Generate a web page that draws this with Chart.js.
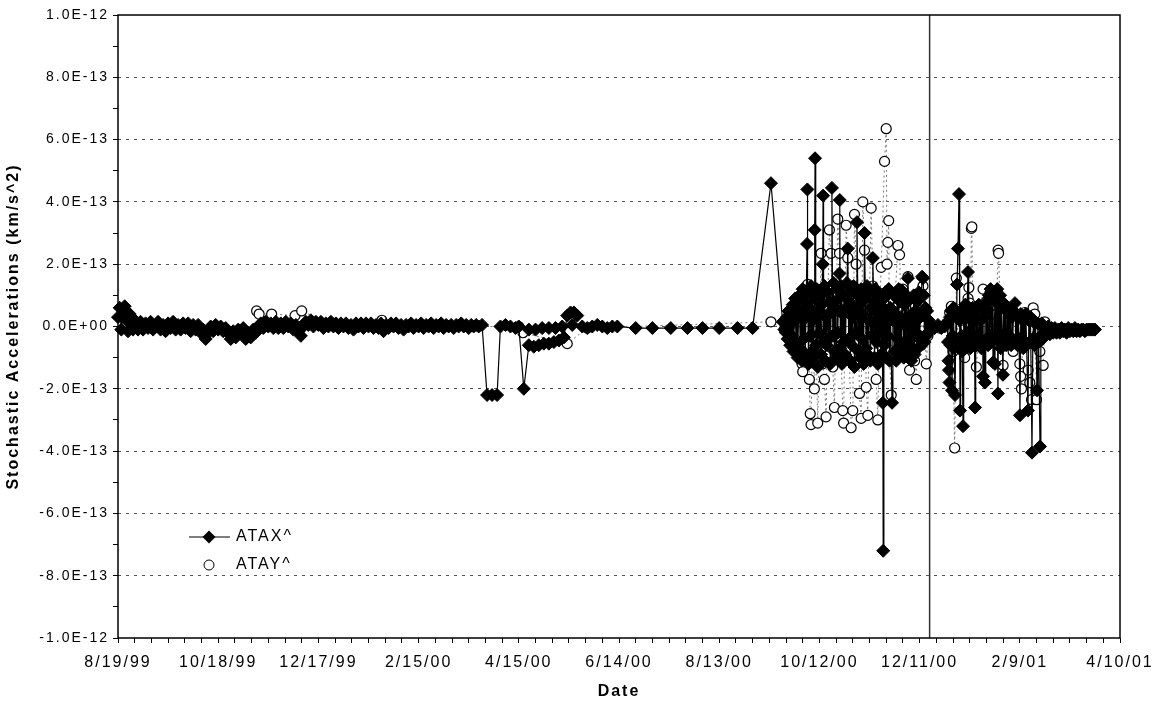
<!DOCTYPE html>
<html>
<head>
<meta charset="utf-8">
<title>Stochastic Accelerations</title>
<script src="https://cdn.jsdelivr.net/npm/chart.js@4.4.1/dist/chart.umd.min.js"></script>
<style>
  html, body { margin: 0; padding: 0; background: #fff; }
  #chart { display: block; }
</style>
</head>
<body>
<canvas id="chart" width="1160" height="705"></canvas>
<script>
// x values are days counted from the first axis date (8/19/99)
const startDate = Date.UTC(1999, 7, 19);
const dayMin = 0;
const dayMax = 600;
const labelEvery = 60;   // one date label every 60 days
const minorEvery = 10;   // small tick every 10 days
const markerDay = 486;   // solid vertical line just after 12/11/00

// y values are in units of 1E-13 km/s^2
const yMin = -10;
const yMax = 10;

const seriesNames = ['ATAX^', 'ATAY^'];

// ATAX^ : [day, value]
const atax = [
  [0,0.3],[1,0.6],[2,-0.1],[3,0.5],[4,0.65],[5,0.2],[6,-0.15],[7,0.4],[8,0.1],[9,-0.1],
  [10,0.2],[11,0],[12,-0.1],[13.5,0.15],[15,-0.1],[16.5,0.1],[18,-0.05],[19.5,0.15],[21,-0.1],[22.5,0.05],
  [24,0.15],[25.5,-0.1],[27,0.05],[28.5,-0.15],[30,0.1],[31.5,-0.05],[33,0.15],[34.5,-0.1],[36,0.05],[37.5,-0.1],
  [39,0.1],[40.5,-0.05],[42,0.1],[43.5,-0.15],[45,0.05],[46.5,-0.1],[48,0.05],[49.5,-0.2],[51,-0.1],[52.5,-0.4],
  [54,-0.2],[55.5,0],[57,-0.15],[58.5,0.05],[60,-0.1],[61.5,0],[63,-0.15],[64.5,-0.05],[66,-0.2],[67.5,-0.4],
  [69,-0.15],[70.5,-0.35],[72,-0.1],[73.5,-0.2],[75,-0.05],[76.5,-0.4],[78,-0.2],[79.5,-0.35],[81,-0.1],[82.5,-0.2],
  [84,0],[85.5,0.1],[87,-0.05],[88.5,0.15],[90,0],[91.5,0.1],[93,-0.05],[94.5,0.15],[96,-0.05],[97.5,0.1],
  [99,-0.05],[100.5,0.15],[102,0],[103.5,0.1],[105,-0.1],[106.5,0.05],[108,-0.15],[109.5,-0.3],[111,0],[112.5,0.15],
  [114,0.05],[115.5,0.2],[117,0],[118.5,0.15],[120,0.05],[121.5,0.15],[123,-0.05],[124.5,0.1],[126,0],[127.5,0.15],
  [129,0],[130.5,0.1],[132,-0.05],[133.5,0.1],[135,0],[136.5,0.1],[138,-0.05],[139.5,0.05],[141,-0.1],[142.5,0.1],
  [144,0],[145.5,0.1],[147,-0.05],[148.5,0.1],[150,0],[151.5,0.1],[153,-0.05],[154.5,0.05],[156,-0.05],[157.5,0.1],
  [159,-0.15],[160.5,0.05],[162,-0.05],[163.5,0.1],[165,0],[166.5,0.1],[168,-0.05],[169.5,0.05],[171,-0.1],[172.5,0.05],
  [174,0],[175.5,0.1],[177,-0.05],[178.5,0.05],[180,0],[181.5,0.1],[183,-0.05],[184.5,0.05],[186,0],[187.5,0.1],
  [189,-0.05],[190.5,0.05],[192,0],[193.5,0.1],[195,-0.05],[196.5,0.05],[198,0],[199.5,0.05],[201,-0.05],[202.5,0.05],
  [204,0],[205.5,0.1],[207,0],[208.5,0.05],[210,-0.05],[211.5,0.05],[213,0],[214.5,0.05],[216,0],[218,0.05],
  [221,-2.2],[224,-2.2],[227,-2.2],[229,0],[232,0.05],[235,0],[238,-0.05],[240,0],
  [243,-2.0],[246,-0.6],[249,-0.65],[252,-0.6],[255,-0.55],[258,-0.55],[261,-0.5],[264,-0.45],[267,-0.35],
  [269,0.35],[271,0.45],[273,0.45],[275,0.35],[272,0.05],[266,0],[262,-0.05],[258,-0.05],[254,-0.05],
  [250,-0.1],[246,-0.1],[278,0],[281,-0.05],[284,0],[287,0.05],[290,0],[293,-0.05],[296,0],[299,0],
  [310,-0.05],[320,-0.05],[331,-0.05],[341,-0.05],[350,-0.05],[360,-0.05],[371,-0.05],[380,-0.05],
  [391,4.6],[398,0.15],[399,-0.1],
  // busy period, Oct - Dec 2000
  [400,-0.2],[400.5,0.3],[401,-0.4],[401.5,0.5],[402,0.1],[402.5,-0.6],[403,0.4],[403.5,-0.3],[404,0.7],[404.5,-0.8],
  [405,0.2],[405.5,0.9],[406,-0.5],[406.5,0.6],[407,-1.0],[407.5,0.3],[408,1.0],[408.5,-0.7],[409,0.5],[409.5,-1.1],
  [410,1.2],[410.5,-0.4],[411,0.8],[411.5,-0.9],[412,0.3],[412.6,2.65],[412.8,4.4],[413,1.1],[413.5,-1.2],[414,0.6],
  [414.5,-0.3],[415,1.3],[415.5,-0.8],[416,0.2],[416.5,-1.0],[417,0.9],[417.2,3.1],[417.4,5.4],[417.8,0.4],[418,-0.6],
  [418.5,1.2],[419,-1.3],[419.5,0.5],[420,-0.2],[420.5,1.0],[421,-0.9],[421.5,0.7],[422,2.0],[422.2,4.2],[422.5,-0.5],
  [423,1.3],[423.5,-1.1],[424,0.3],[424.5,-0.6],[425,1.1],[425.5,-0.4],[426,0.8],[426.5,-1.2],[427,0.5],[427.5,4.45],
  [428,-0.3],[428.5,1.4],[429,-0.8],[429.5,0.6],[430,-1.0],[430.5,1.2],[431,-0.2],[431.5,0.9],[432,1.7],[432.2,4.06],
  [432.5,-0.7],[433,1.3],[433.5,-1.2],[434,0.4],[434.5,-0.5],[435,1.0],[435.5,-0.9],[436,0.6],[436.5,1.4],[437,2.5],
  [437.5,-0.4],[438,0.8],[438.5,-1.1],[439,1.2],[439.5,-0.6],[440,0.3],[440.5,1.3],[441,-1.3],[441.5,0.5],[442,-0.2],
  [442.5,3.35],[443,1.0],[443.5,-0.8],[444,0.7],[444.5,-1.0],[445,1.2],[445.5,-0.4],[446,0.4],[446.5,-1.2],[447,3.0],
  [447.5,0.9],[448,-0.7],[448.5,1.3],[449,-0.9],[449.5,0.2],[450,1.1],[450.5,-1.1],[451,0.6],[451.5,-0.3],[452,2.2],
  [452.5,0.8],[453,-1.0],[453.5,1.2],[454,-0.5],[454.5,0.4],[455,-1.2],[455.5,1.0],[456,-0.2],[456.5,0.7],[457,-0.9],
  [457.5,0.3],[458,-2.45],[458.2,-7.2],[458.6,0.9],[459,-0.6],[459.5,1.1],[460,-1.0],[460.5,0.5],[461,-0.3],[461.5,1.2],
  [462,-1.1],[462.5,0.6],[463.5,-2.45],[464,0.2],[464.5,1.0],[465,-0.8],[465.5,0.4],[466,-1.1],[466.5,0.9],[467,-0.4],
  [467.5,1.2],[468,-0.9],[468.5,0.3],[469,-0.6],[469.5,1.15],[470,0.1],[470.5,-1.0],[471,0.7],[471.5,-0.5],[472,1.0],
  [472.5,-0.8],[473,1.55],[473.5,0.2],[474,-0.6],[474.5,0.9],[475,-1.1],[475.5,0.4],[476,-0.3],[476.5,1.0],[477,-0.9],
  [477.5,0.5],[478,-0.2],[478.5,0.8],[479,-0.7],[479.5,1.1],[480,-0.4],[480.5,0.3],[481.5,1.6],[482,1.55],[482.5,1.0],
  [483,-0.5],[483.5,0.6],[484,-0.3],[484.5,0.5],[485,-0.2],[485.5,0.2],[486,0],
  // after the marker line
  [487,0],[489,-0.05],[491,0.05],[493,-0.05],[495,0],[496.5,0.1],
  [497,-0.5],[497.3,-1.1],[497.6,-1.4],[497.9,-1.8],[498.2,0.3],[498.5,-0.6],[499,0.5],[499.4,-2.05],[499.8,-0.3],[500.3,0.6],
  [500.7,-0.7],[501.2,-2.2],[501.8,0.3],[502.1,-0.4],[502.4,1.35],[503,2.5],[503.6,4.25],[504,0.2],[504.2,-2.7],[504.6,0.5],
  [505,-0.3],[505.5,-0.8],[506,-3.2],[506.4,0.4],[506.8,-0.6],[507.3,0.7],[507.8,-0.5],[508.3,0.3],[509,1.75],[509.4,-0.2],
  [509.8,0.6],[510.3,-0.7],[510.8,0.4],[511.3,-0.5],[511.8,0.6],[512.3,-0.3],[512.8,0.2],[513.2,-2.6],[513.6,0.5],[514,-0.6],
  [514.5,0.3],[515,-0.4],[515.5,0.7],[516,-0.5],[516.5,0.2],[517,-0.7],[517.5,0.6],[518,-1.6],[518.5,0.3],[519.2,-1.8],
  [519.6,0.5],[520,-0.4],[520.5,0.8],[521,-0.6],[521.5,1.0],[522,-0.3],[522.5,1.2],[523,-0.5],[523.5,0.9],[524,-1.15],
  [524.5,1.1],[525.1,-1.2],[525.5,0.8],[526,-0.4],[526.5,1.2],[526.9,-2.15],[527.3,0.9],[527.8,-0.5],[528.2,1.0],[528.6,-0.7],
  [529,0.8],[529.5,-0.3],[529.9,-1.55],[530.3,0.6],[530.8,-0.4],[531.3,0.7],[531.8,-0.6],[532.3,0.5],[532.8,-0.3],[533.3,0.6],
  [533.8,-0.5],[534.3,0.4],[534.8,-0.6],[535.3,0.3],[535.8,-0.4],[536.3,0.5],[537.1,0.75],[537.6,-0.5],[538.1,0.4],[538.6,-0.6],
  [539.1,0.3],[539.6,-0.4],[540.1,-2.85],[540.6,0.4],[541.1,-0.6],[541.6,0.3],[542.1,-0.7],[542.6,0.2],[543.1,-0.5],[543.6,0.4],
  [544.1,-0.6],[544.9,-2.7],[545.4,0.2],[545.9,-0.5],[546.4,0.3],[547.3,-4.05],[547.8,-0.4],[548.3,0.2],[548.8,-0.6],[549.3,0.1],
  [549.8,-0.5],[550.3,-2.05],[550.8,0.1],[551.3,-0.5],[552.1,-3.85],[552.6,-0.3],[553.1,0.1],[553.6,-0.4],[554.1,0],[554.6,-0.3],
  [555,-0.1],[556,-0.2],[557,0],[558,-0.25],[559,-0.05],[560,-0.2],[561,-0.05],[562,-0.2],[563,-0.1],[564,-0.2],
  [565,-0.05],[566,-0.15],[567,-0.1],[568,-0.2],[569,-0.05],[570,-0.15],[571,-0.1],[572,-0.15],[573,-0.05],[574,-0.15],
  [575,-0.1],[576,-0.15],[577,-0.1],[578,-0.1],[579,-0.15],[580,-0.1],[581,-0.1],[582,-0.1],[583,-0.1],[584,-0.1],
  [585,-0.1]
];

// ATAY^ : [day, value]
const atay = [
  [83,0.5],[84.5,0.4],[92,0.4],[106,0.35],[110,0.5],[126,0.1],[158,0.2],[198,0],
  [240,0],[242.5,-0.2],[269,-0.55],[281,-0.05],[391,0.15],[399,-0.1],
  [404,0.1],[408,0.9],[409,-0.85],[409.6,-1.2],[410,-1.45],[411,1.2],[413,1.35],[414,-1.7],[414.5,-2.8],
  [415,-3.15],[416,0.6],[417,-2.0],[418,-0.5],[419,-3.1],[421,2.35],[422,-1.2],[423,-1.7],[424,-2.9],
  [425,0.8],[426,3.1],[427,2.35],[428,-1.3],[429,-2.6],[430,0.5],[431,3.45],[432,2.35],[433,-0.9],
  [434,-2.7],[434.5,-3.1],[436,3.25],[437,2.2],[438,-1.1],[439,-3.25],[440,-2.7],[441,3.6],[442,2.0],
  [443,0.7],[444,-2.15],[445,-2.95],[446,4.0],[447,2.45],[448,-1.95],[449,-2.85],[450,1.0],[451,3.8],
  [452,1.3],[454,-1.7],[455,-3.0],[456,0.3],[457,1.9],[459,5.3],[460,6.35],[460.5,2.0],[461,2.7],
  [461.5,3.4],[462,-1.0],[463,-2.2],[465,0.6],[467,2.6],[468,2.3],[469,0.45],[470,1.2],[472,-0.8],
  [473,1.6],[474,-1.4],[475,0.9],[477,-1.1],[478,-1.7],[479,0.3],[481,-0.6],[482,1.3],[483,0.4],
  [484,-1.2],[485,-0.3],
  [487,-0.1],[492,-0.05],[496,0.1],[498,0.45],[499,0.65],[500,-0.8],[501,-3.9],[502,1.55],[503,-0.5],
  [505,0.2],[507,-1.0],[509,0.9],[509.5,1.25],[510,0.75],[510.5,0.5],[511,3.15],[511.3,3.2],[512,-0.6],
  [514,-1.3],[516,0.3],[518,1.2],[520,0.8],[522,1.05],[523,0.6],[524,-0.4],[525,1.1],[526,0.4],
  [527,2.45],[527.3,2.35],[528,0.9],[530,-1.25],[531,0.6],[533,-0.3],[534,0.4],[536,-0.8],[538,0.35],
  [540,-1.2],[540.5,-1.6],[541,-2.0],[542,0.2],[543,0.45],[545,-1.4],[546,-1.8],[547,-2.35],[548,0.6],
  [549,0.4],[550,-2.35],[552,-0.8],[554,-1.25],[555,0.15],[557,-0.05],[560,-0.1],[565,-0.1],[570,-0.1],
  [575,-0.15],[580,-0.1],[584,-0.1]
];

// Format a day offset as m/d/yy
function dayLabel(day) {
  const d = new Date(startDate + day * 86400000);
  const yy = String(d.getUTCFullYear() % 100).padStart(2, '0');
  return (d.getUTCMonth() + 1) + '/' + d.getUTCDate() + '/' + yy;
}

// Excel style 0.0E+00 from a value in 1E-13 units
function sciLabel(v) {
  if (Math.abs(v) < 1e-9) return '0.0E+00';
  const parts = (v * 1e-13).toExponential(1).split('e');
  const exp = parseInt(parts[1], 10);
  return parts[0] + 'E' + (exp < 0 ? '-' : '+') + String(Math.abs(exp)).padStart(2, '0');
}

// Spaced-out text like the scanned original
const spacingPlugin = {
  id: 'spacing',
  beforeDraw(chart) {
    chart.ctx.letterSpacing = '2px';
  }
};

// Plot frame and the vertical marker line
const framePlugin = {
  id: 'frame',
  beforeDatasetsDraw(chart) {
    const ctx = chart.ctx;
    const area = chart.chartArea;
    const xm = chart.scales.x.getPixelForValue(markerDay);
    ctx.save();
    ctx.strokeStyle = '#333';
    ctx.lineWidth = 1.5;
    ctx.beginPath();
    ctx.moveTo(xm, area.top);
    ctx.lineTo(xm, area.bottom);
    ctx.stroke();
    ctx.restore();
  },
  afterDraw(chart) {
    const ctx = chart.ctx;
    const area = chart.chartArea;
    ctx.save();
    ctx.strokeStyle = '#000';
    ctx.lineWidth = 1.5;
    ctx.strokeRect(area.left, area.top, area.right - area.left, area.bottom - area.top);
    ctx.restore();
  }
};

// Legend box inside the plot, lower left
const legendPlugin = {
  id: 'insetLegend',
  afterDraw(chart) {
    const ctx = chart.ctx;
    const area = chart.chartArea;
    const cx = area.left + 91;
    const y1 = area.top + 522;
    const y2 = area.top + 550;
    ctx.save();
    ctx.letterSpacing = '2px';
    // ATAX^ sample: line with a filled diamond
    ctx.strokeStyle = '#000';
    ctx.lineWidth = 1;
    ctx.beginPath();
    ctx.moveTo(cx - 20, y1);
    ctx.lineTo(cx + 21, y1);
    ctx.stroke();
    ctx.fillStyle = '#000';
    ctx.beginPath();
    ctx.moveTo(cx, y1 - 6.5);
    ctx.lineTo(cx + 6.5, y1);
    ctx.lineTo(cx, y1 + 6.5);
    ctx.lineTo(cx - 6.5, y1);
    ctx.closePath();
    ctx.fill();
    // ATAY^ sample: open circle
    ctx.beginPath();
    ctx.arc(cx, y2, 5, 0, Math.PI * 2);
    ctx.fillStyle = '#fff';
    ctx.fill();
    ctx.stroke();
    ctx.fillStyle = '#000';
    ctx.font = '16px "Liberation Sans", Arial, sans-serif';
    ctx.textBaseline = 'middle';
    ctx.textAlign = 'left';
    ctx.fillText(seriesNames[0], cx + 27, y1);
    ctx.fillText(seriesNames[1], cx + 27, y2);
    ctx.restore();
  }
};

const toPoints = arr => arr.map(p => ({ x: p[0], y: p[1] }));

const ctx = document.getElementById('chart').getContext('2d');
const chart = new Chart(ctx, {
  type: 'scatter',
  data: {
    datasets: [
      {
        label: seriesNames[0],
        data: toPoints(atax),
        showLine: true,
        borderColor: '#000',
        borderWidth: 1.2,
        pointStyle: 'rectRot',
        pointRadius: 6.5,
        pointBackgroundColor: '#000',
        pointBorderColor: '#000',
        pointBorderWidth: 1,
        clip: false
      },
      {
        label: seriesNames[1],
        data: toPoints(atay),
        showLine: true,
        borderColor: '#777',
        borderWidth: 1,
        borderDash: [2, 3],
        pointStyle: 'circle',
        pointRadius: 5,
        pointBackgroundColor: '#fff',
        pointBorderColor: '#000',
        pointBorderWidth: 1.2,
        clip: false
      }
    ]
  },
  options: {
    responsive: false,
    animation: false,
    devicePixelRatio: 1,
    layout: {
      padding: { top: 15, right: 40, bottom: 0, left: 0 }
    },
    plugins: {
      legend: { display: false },
      tooltip: { enabled: false }
    },
    scales: {
      x: {
        type: 'linear',
        min: dayMin,
        max: dayMax,
        afterFit: function(scale) { scale.height = 67; },
        border: { display: false },
        grid: {
          drawOnChartArea: false,
          tickColor: '#000',
          tickLength: 5
        },
        ticks: {
          stepSize: minorEvery,
          autoSkip: false,
          maxRotation: 0,
          minRotation: 0,
          padding: 10,
          color: '#000',
          font: { family: '"Liberation Sans", Arial, sans-serif', size: 16 },
          callback: function(value) {
            return value % labelEvery === 0 ? dayLabel(value) : '';
          }
        },
        title: {
          display: true,
          text: 'Date',
          color: '#000',
          font: { family: '"Liberation Sans", Arial, sans-serif', size: 16, weight: 'bold' },
          padding: { top: 0, bottom: 4 }
        }
      },
      y: {
        type: 'linear',
        min: yMin,
        max: yMax,
        afterFit: function(scale) { scale.width = 118; },
        border: { display: false, dash: [3, 5] },
        grid: {
          color: function(c) {
            const v = Math.round(c.tick ? c.tick.value : 1);
            return (v % 2 === 0 && Math.abs(v) < yMax) ? '#555' : 'rgba(0,0,0,0)';
          },
          tickColor: '#000',
          tickLength: 5
        },
        ticks: {
          stepSize: 1,
          autoSkip: false,
          padding: 4,
          color: '#000',
          font: { family: '"Liberation Sans", Arial, sans-serif', size: 14 },
          callback: function(value) {
            return Math.round(value) % 2 === 0 ? sciLabel(value) : '';
          }
        },
        title: {
          display: true,
          text: 'Stochastic Accelerations (km/s^2)',
          color: '#000',
          font: { family: '"Liberation Sans", Arial, sans-serif', size: 16, weight: 'bold' },
          padding: { top: 4, bottom: 0 }
        }
      }
    }
  },
  plugins: [spacingPlugin, framePlugin, legendPlugin]
});
</script>
</body>
</html>
